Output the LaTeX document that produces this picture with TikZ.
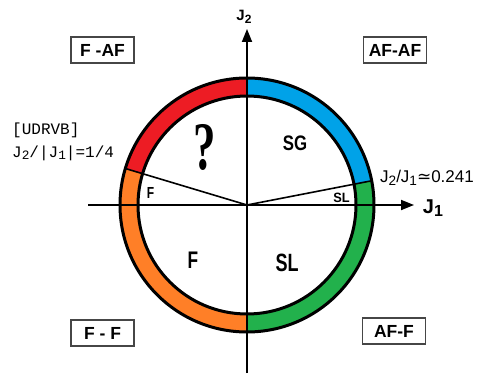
\documentclass[tikz,border=0pt]{standalone}
\usepackage{fontspec}
\usepackage{graphicx}
\setmainfont{Liberation Sans}
\newfontfamily\serifb{Liberation Serif}
\newfontfamily\monof{Liberation Mono}
\newfontfamily\dejavu{DejaVu Sans}
\usetikzlibrary{arrows.meta}
\newcommand\mysub[1]{\raisebox{-0.3ex}{\scalebox{0.8}{#1}}}
\definecolor{pred}{RGB}{237,28,36}
\definecolor{pblue}{RGB}{0,162,232}
\definecolor{pgreen}{RGB}{34,177,76}
\definecolor{porange}{RGB}{255,127,39}
\definecolor{boxgray}{RGB}{70,70,70}
\tikzset{
  regbox/.style={draw=boxgray,line width=1.4pt,fill=white,minimum width=63pt,minimum height=26pt,inner sep=0pt,font=\fontsize{17.5}{18}\selectfont\bfseries},
  axisline/.style={line width=1.8pt,-{Triangle[length=13pt,width=10pt]}},
  radial/.style={line width=1.6pt},
  lbl/.style={inner sep=0pt,font=\bfseries}
}
\begin{document}
\begin{tikzpicture}[x=1pt,y=1pt]
\useasboundingbox (0,0) rectangle (477,373);
\fill[white] (0,0) rectangle (477,373);
\coordinate (C) at (247,168);
\def\Ro{127}
\def\Ri{109}
\def\aL{163.3}
\def\aR{11}
% ring sectors
\begin{scope}[shift={(247,168)}]
\fill[pred] (90:\Ro) arc[start angle=90,end angle=\aL,radius=\Ro] -- (\aL:\Ri) arc[start angle=\aL,end angle=90,radius=\Ri] -- cycle;
\fill[porange] (\aL:\Ro) arc[start angle=\aL,end angle=270,radius=\Ro] -- (270:\Ri) arc[start angle=270,end angle=\aL,radius=\Ri] -- cycle;
\fill[pgreen] (-90:\Ro) arc[start angle=-90,end angle=\aR,radius=\Ro] -- (\aR:\Ri) arc[start angle=\aR,end angle=-90,radius=\Ri] -- cycle;
\fill[pblue] (\aR:\Ro) arc[start angle=\aR,end angle=90,radius=\Ro] -- (90:\Ri) arc[start angle=90,end angle=\aR,radius=\Ri] -- cycle;
\draw[line width=3pt] (0,0) circle[radius=\Ro];
\draw[line width=3pt] (0,0) circle[radius=\Ri];
\coordinate (PL) at (\aL:\Ro);
\coordinate (PR) at (\aR:\Ro);
\end{scope}
\draw[radial] (C) -- (PL);
\draw[radial] (C) -- (PR);
% axes
\coordinate (XL) at (88,168);
\coordinate (XR) at (414,168);
\coordinate (YB) at (247,0);
\coordinate (YT) at (247,344);
\draw[axisline] (XL) -- (XR);
\draw[axisline] (YB) -- (YT);
\node[lbl,font=\fontsize{20}{21}\selectfont\bfseries] (j1) at (433,165) {J\mysub{1}};
\node[lbl,font=\fontsize{15}{16}\selectfont\bfseries] (j2) at (244,356) {J\mysub{2}};
% region labels
\node[lbl,font=\fontsize{68}{70}\selectfont\serifb\bfseries,xscale=0.66] (q) at (205,226) {?};
\node[lbl,font=\fontsize{21}{22}\selectfont\bfseries,xscale=0.8] (sg) at (295,230) {SG};
\node[lbl,font=\fontsize{24}{25}\selectfont\bfseries,xscale=0.72] (fbig) at (193,113) {F};
\node[lbl,font=\fontsize{25}{26}\selectfont\bfseries,xscale=0.72] (slbig) at (287,110) {SL};
\node[lbl,font=\fontsize{16}{17}\selectfont\bfseries,xscale=0.75] (fsmall) at (150.5,180) {F};
\node[lbl,font=\fontsize{13.5}{14}\selectfont\bfseries,xscale=0.95] (slsmall) at (341.5,175) {SL};
% boxes
\node[regbox] (faf) at (102.5,323) {F -AF};
\node[regbox] (afaf) at (395,323) {AF-AF};
\node[regbox] (ff) at (102.5,40) {F - F};
\node[regbox] (aff) at (394,42) {AF-F};
% annotations
\node[anchor=west,inner sep=0pt,font=\fontsize{16}{17}\selectfont\monof] (udrvb) at (12,243) {[UDRVB]};
\node[anchor=west,inner sep=0pt,font=\fontsize{16}{17}\selectfont\monof] (ratio) at (12,220) {J\mysub{2}/|J\mysub{1}|=1/4};
\node[anchor=west,inner sep=0pt,font=\fontsize{17}{18}\selectfont] (crit) at (380,195) {J\mysub{2}/J\mysub{1}{\dejavu ≃}0.241};
\end{tikzpicture}
\end{document}
